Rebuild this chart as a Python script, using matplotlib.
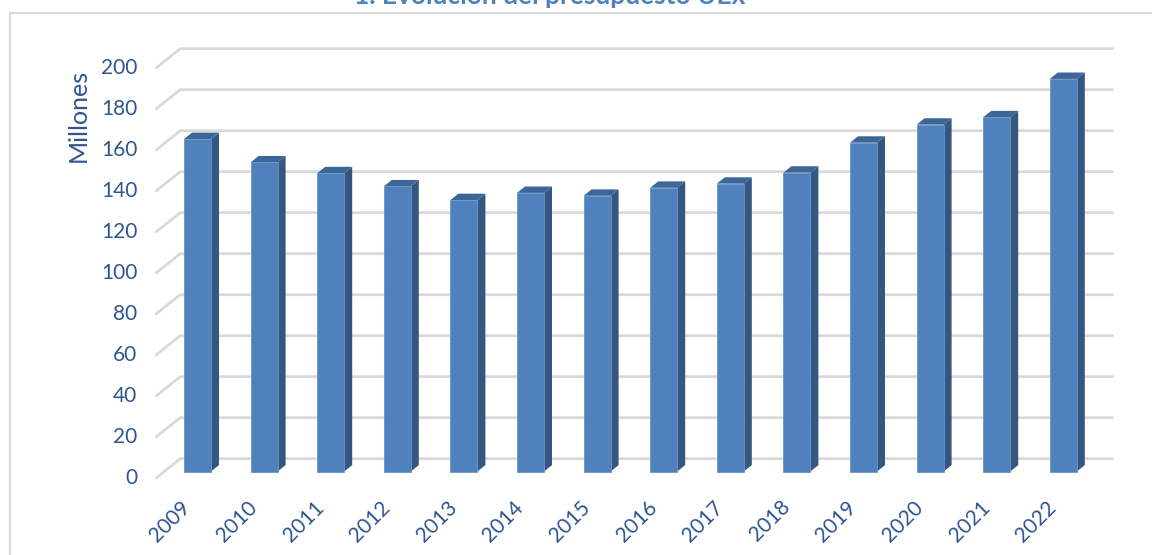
import matplotlib
matplotlib.use("Agg")
from matplotlib import pyplot as plt
from matplotlib.patches import Polygon
import numpy as np

plt.rcParams['font.family'] = ['Lato', 'DejaVu Sans']

# data (millones de euros)
years = ['2009', '2010', '2011', '2012', '2013', '2014', '2015',
         '2016', '2017', '2018', '2019', '2020', '2021', '2022']
values = [162.2, 150.8, 145.5, 139.1, 132.4, 135.9, 134.5,
          138.4, 140.4, 145.8, 160.4, 169.2, 172.8, 191.5]
yticks = [0, 20, 40, 60, 80, 100, 120, 140, 160, 180, 200]
title = '1. Evolución del presupuesto UEx'
ylabel = 'Millones'

W, H = 1152, 555
fig = plt.figure(figsize=(W / 100, H / 100), dpi=100)
ax = fig.add_axes([0, 0, 1, 1])
ax.axis('off')

# pixel scale of the chart: one category = 66.6 px, one unit = 2.05 px
cat_px, val_px = 66.6, 2.05
x0_px, y0_px = 197.5, 471.5   # front face of first bar, value 0 (from top)
ax.set_xlim(-x0_px / cat_px, (W - x0_px) / cat_px)
ax.set_ylim(-(H - y0_px) / val_px, y0_px / val_px)

# depth step (oblique 3D look)
ddx = 8 / cat_px
ddy = 6.4 / val_px
bw = 27 / cat_px
n = len(years)

front_col = '#4F81BD'
side_col = '#34567F'
top_col = '#3D6698'
grid_col = '#D9D9D9'
text_col = '#2F558F'

# back wall gridlines + left floor diagonals
xl_front = -0.5 - ddx
xl_back = -0.5 + 2 * ddx
xr_back = n - 0.5 + 2 * ddx
for t in yticks:
    ax.plot([xl_front, xl_back, xr_back], [t - ddy, t + 2 * ddy, t + 2 * ddy],
            color=grid_col, lw=2.0, solid_capstyle='round', zorder=1)
    ax.text(xl_front - 19 / cat_px, t - ddy, str(t), ha='right', va='center',
            fontsize=15, color=text_col)

# bars
x = np.arange(n)
ax.bar(x, values, width=bw, color=front_col, edgecolor='#6A93C9', lw=0.6, zorder=3)
for xi, v in zip(x, values):
    xr = xi + bw / 2
    xl = xi - bw / 2
    side = Polygon([(xr, 0), (xr + ddx, ddy), (xr + ddx, v + ddy), (xr, v)],
                   closed=True, facecolor=side_col, edgecolor='none', zorder=2.5)
    top = Polygon([(xl, v), (xr, v), (xr + ddx, v + ddy), (xl + ddx, v + ddy)],
                  closed=True, facecolor=top_col, edgecolor='none', zorder=2.5)
    ax.add_patch(side)
    ax.add_patch(top)

# category labels
for xi, lab in zip(x, years):
    ax.text(xi - 3 / cat_px, -ddy - 19 / val_px, lab, rotation=45,
            ha='right', va='top', fontsize=15, color=text_col)

# axis title
fig.text(78 / W, 1 - 115 / H, ylabel, rotation=90, ha='center', va='center',
         fontsize=18, color=text_col)

# chart title (partly cut at the top, as in the source)
fig.text(550 / W, 1 - 3.5 / H, title, ha='center', va='baseline',
         fontsize=19, fontweight='bold', color='#4F81BD')

# chart frame
fig.add_artist(plt.Line2D([10 / W, 10 / W], [0, 1 - 13 / H], transform=fig.transFigure,
                          color=grid_col, lw=1.5))
fig.add_artist(plt.Line2D([10 / W, 1], [1 - 13 / H, 1 - 13 / H], transform=fig.transFigure,
                          color=grid_col, lw=1.5))

fig.savefig('out.png', dpi=100)
